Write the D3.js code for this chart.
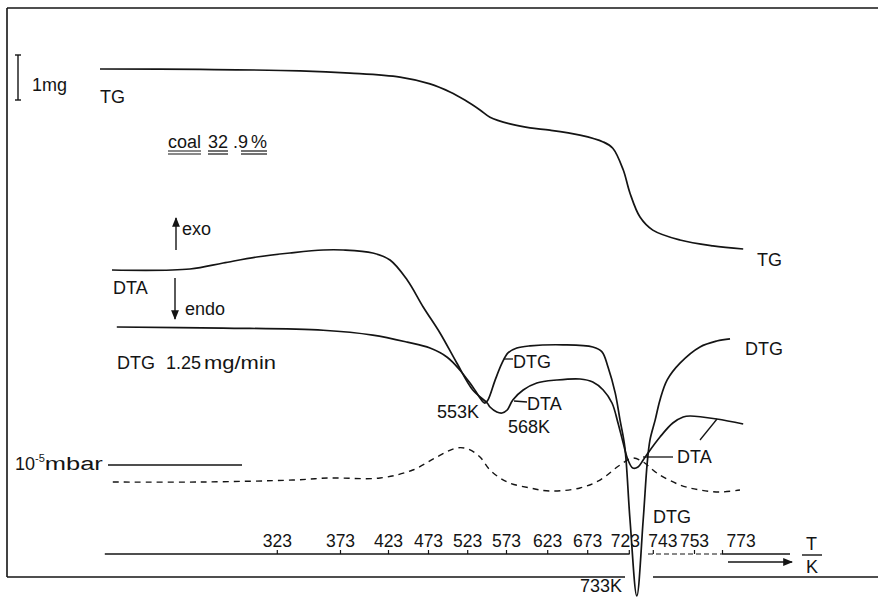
<!DOCTYPE html>
<html>
<head>
<meta charset="utf-8">
<script src="https://cdn.jsdelivr.net/npm/d3@7"></script>
<style>
  html, body { margin: 0; padding: 0; background: #fff; }
  svg { display: block; }
  text { font-family: "Liberation Sans", Arial, sans-serif; fill: #141414; }
</style>
</head>
<body>
<svg id="chart" width="878" height="598"></svg>
<script>
// Heating time (min) at which each furnace temperature was marked on the record
const tickTimes  = [22.1, 30.0, 36.0, 41.0, 45.9, 50.75, 55.9, 60.9, 66.1, 69.1, 74.25, 77.75];
const tickLabels = ["323", "373", "423", "473", "523", "573", "623", "673", "723", "743", "753", "773"];

// TG: cumulative mass loss (mg) against heating time (min)
const tgTime = [0, 12.5, 25, 31.25, 37.5, 41.25, 43.75, 45.6, 47.5, 48.75, 51.25, 53.75, 56.25, 60, 62.9, 64.1, 65.4, 66.25, 67.5, 69.1, 72.5, 76.6, 80.4];
const tgLoss = [0, 0.01, 0.04, 0.09, 0.18, 0.33, 0.51, 0.69, 0.91, 1.07, 1.22, 1.31, 1.36, 1.47, 1.62, 1.76, 2.24, 2.76, 3.29, 3.58, 3.80, 3.93, 4.0];

// DTA signal (exo positive, arbitrary units)
const dtaTime   = [1.5, 11.25, 15.4, 19.6, 23.75, 27.9, 30.4, 34.1, 36.25, 38.4, 40.4, 42.5, 44.6, 46.6, 48.4, 48.75, 49.6, 50.25, 50.9, 51.6, 52.9, 54.6, 57.1, 60, 61.6, 62.9, 64, 64.75, 65.4, 66, 66.6, 67.25, 67.9, 68.5, 70, 71.6, 72.9, 73.75, 77.1, 80.4];
const dtaSignal = [0, 0.1, 0.7, 1.3, 1.7, 2.0, 2.0, 1.7, 1.0, -1.0, -3.7, -6.3, -9.3, -12.0, -13.3, -13.7, -14.2, -14.3, -14.0, -13.0, -12.0, -11.3, -11.0, -10.9, -11.2, -12.0, -13.3, -15.3, -17.3, -19.0, -19.8, -19.7, -19.0, -18.3, -16.7, -15.3, -14.7, -14.6, -14.9, -15.4];

// DTG: rate of mass loss (mg/min)
const dtgTime = [2.1, 15.4, 27.9, 34.1, 38.4, 41.25, 43.4, 45, 46.6, 48.1, 48.5, 49.4, 50.25, 51, 52.1, 53.75, 57.9, 61.6, 62.75, 63.5, 64.4, 65, 65.6, 66.25, 67.1, 67.9, 68.4, 68.75, 69.4, 70, 70.9, 72.5, 75, 77.1, 78.75];
const dtgRate = [0, 0.002, 0.006, 0.015, 0.028, 0.039, 0.056, 0.080, 0.111, 0.141, 0.135, 0.098, 0.067, 0.048, 0.039, 0.035, 0.033, 0.037, 0.046, 0.074, 0.122, 0.172, 0.222, 0.357, 0.498, 0.357, 0.252, 0.209, 0.172, 0.135, 0.098, 0.067, 0.037, 0.026, 0.022];

// Total pressure in the vacuum system (10^-5 mbar)
const pressTime  = [1.6, 12.5, 24.1, 28.75, 35, 39.1, 42.1, 44.6, 46, 47.5, 48.75, 50.9, 53.75, 56.25, 60, 62.5, 65, 66.6, 67.9, 69.6, 72.5, 75, 77.5, 80];
const pressValue = [0.514, 0.514, 0.571, 0.629, 0.629, 0.857, 1.229, 1.486, 1.457, 1.229, 0.857, 0.514, 0.343, 0.257, 0.343, 0.571, 1.0, 1.2, 1.086, 0.771, 0.429, 0.286, 0.229, 0.286];

const svg = d3.select("#chart");
const ink = "#141414";

// common time axis, one vertical scale per trace
const x    = d3.scaleLinear().domain([0, 80]).range([100, 740]);
const yTG  = d3.scaleLinear().domain([0, 4]).range([69, 249]);
const yDTA = d3.scaleLinear().domain([0, -20]).range([270, 470]);
const yDTG = d3.scaleLinear().domain([0, 0.5]).range([327, 597]);
const yP   = d3.scaleLinear().domain([0, 1]).range([500, 465]);

const curve = d3.curveCatmullRom.alpha(0.5);
function trace(ts, vs, ys) {
  return d3.line().curve(curve).x(d => x(d[0])).y(d => ys(d[1]))(d3.zip(ts, vs));
}

// arrowhead
svg.append("defs").append("marker")
  .attr("id", "head").attr("viewBox", "0 0 10 10").attr("refX", 9).attr("refY", 5)
  .attr("markerWidth", 7).attr("markerHeight", 7).attr("orient", "auto")
  .append("path").attr("d", "M0,1 L10,5 L0,9 Z").attr("fill", ink);

function seg(x1, y1, x2, y2, w, extra) {
  const l = svg.append("line").attr("x1", x1).attr("y1", y1).attr("x2", x2).attr("y2", y2)
    .attr("stroke", ink).attr("stroke-width", w || 1.4);
  if (extra) extra(l);
  return l;
}
function label(tx, ty, s, size) {
  return svg.append("text").attr("x", tx).attr("y", ty).attr("font-size", size || 18).text(s);
}

// frame
seg(7, 8, 878, 8, 1.6);
seg(7, 8, 7, 577, 1.6);
seg(7, 577, 625, 577, 1.6);
seg(653, 577, 878, 577, 1.6);

// traces
svg.append("path").attr("d", trace(tgTime, tgLoss, yTG))
  .attr("fill", "none").attr("stroke", ink).attr("stroke-width", 1.7);
svg.append("path").attr("d", trace(dtaTime, dtaSignal, yDTA))
  .attr("fill", "none").attr("stroke", ink).attr("stroke-width", 1.7);
svg.append("path").attr("d", trace(dtgTime, dtgRate, yDTG))
  .attr("fill", "none").attr("stroke", ink).attr("stroke-width", 1.7);
svg.append("path").attr("d", trace(pressTime, pressValue, yP))
  .attr("fill", "none").attr("stroke", ink).attr("stroke-width", 1.4)
  .attr("stroke-dasharray", "6,5");

// 1 mg scale bar
const barTop = yTG(0) - 14, barBot = barTop + (yTG(1) - yTG(0));
seg(18, barTop, 18, barBot, 1.4);
seg(15, barTop, 21, barTop, 1.4);
seg(15, barBot, 21, barBot, 1.4);
label(32, 91, "1mg");
label(100, 103, "TG");

// sample annotation with double underlines
const coalParts = [["coal", 168, true], ["32", 208, true], [".9", 233, false], ["%", 251, true]];
coalParts.forEach(([s, px, under]) => {
  const t = label(px, 148, s);
  if (under) {
    const w = t.node().getComputedTextLength();
    const x0 = s === "%" ? px - 10 : px;
    const x1 = px + w;
    seg(x0, 151, x1, 151, 1.2);
    seg(x0, 154, x1, 154, 1.2);
  }
});

// exo / endo
seg(176, 250, 176, 218, 1.4, l => l.attr("marker-end", "url(#head)"));
label(182, 235, "exo");
seg(175, 278, 175, 319, 1.4, l => l.attr("marker-end", "url(#head)"));
label(113, 294, "DTA");
label(185, 315, "endo");
label(117, 369, "DTG");
label(166, 369, "1.25");
label(204, 369, "mg/min").attr("textLength", 72).attr("lengthAdjust", "spacingAndGlyphs");

// pressure reference
const pl = label(15, 470, "10");
pl.append("tspan").attr("font-size", 11).attr("dy", -8).text("-5");
pl.append("tspan").attr("dy", 8).attr("textLength", 58).attr("lengthAdjust", "spacingAndGlyphs").text("mbar");
seg(108, yP(1), 242, yP(1), 1.4);

// peak annotations
label(437, 418, "553K");
seg(504, 359, 513, 359, 1.3);
label(513, 368, "DTG");
seg(514, 401, 527, 402, 1.3);
label(527, 410, "DTA");
label(508, 433, "568K");
seg(643, 457, 673, 457, 1.3);
label(677, 463, "DTA");
seg(700, 440, 717, 419, 1.3);
label(653, 523, "DTG");
label(745, 355, "DTG");
label(757, 266, "TG");
label(580, 592, "733K");

// temperature axis
const axis = d3.axisTop(x).tickValues(tickTimes).tickSize(4).tickPadding(3)
  .tickFormat((d, i) => tickLabels[i]);
const gAxis = svg.append("g").attr("transform", "translate(0,554)").call(axis);
gAxis.attr("font-family", "Liberation Sans, Arial, sans-serif").attr("font-size", 17.5);
gAxis.select(".domain").remove();
gAxis.selectAll(".tick line").attr("stroke", ink).attr("stroke-width", 1.2);
gAxis.selectAll(".tick text").attr("fill", ink);
const shifted = { "743": ["start", -5], "773": ["start", 4], "723": ["middle", -4] };
gAxis.selectAll(".tick text").each(function (d, i) {
  const s = shifted[tickLabels[i]];
  if (s) d3.select(this).attr("text-anchor", s[0]).attr("dx", s[1]);
});
seg(x(0.6), 554, x(66.2), 554, 1.4);
seg(x(68.5), 554, x(77.75), 554, 1.2, l => l.attr("stroke-dasharray", "5,3"));
seg(x(77.75), 554, 790, 554, 1.4);

// direction of heating and unit
seg(728, 562, 792, 562, 1.4, l => l.attr("marker-end", "url(#head)"));
label(806, 550, "T");
seg(802, 555, 822, 555, 1.4);
label(806, 573, "K");
</script>
</body>
</html>
